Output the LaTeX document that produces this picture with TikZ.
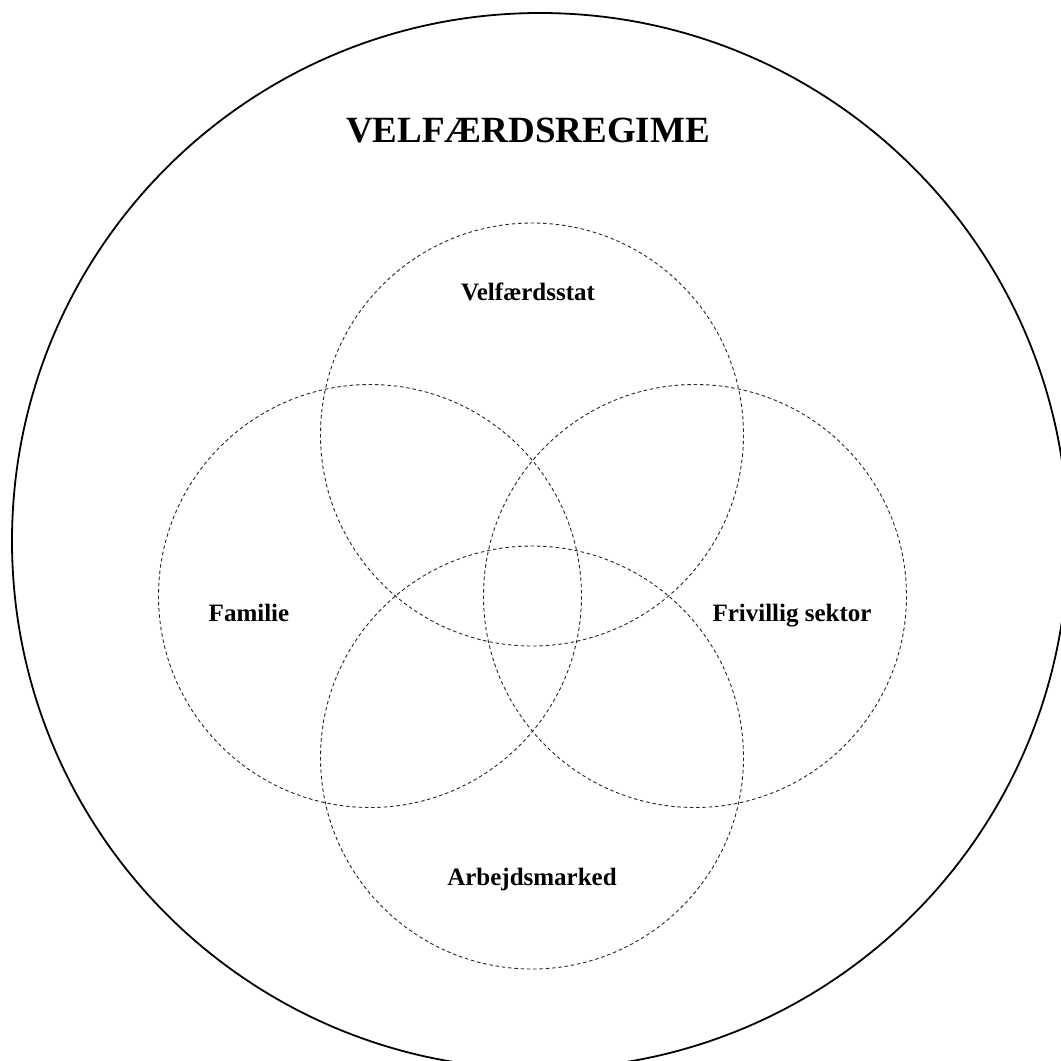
\documentclass[tikz,border=0pt]{standalone}
\usepackage{fontspec}
\setmainfont{Liberation Serif}
\begin{document}
\begin{tikzpicture}[x=1pt,y=-1pt,
  venn/.style={draw=black!85, line width=0.9pt, dash pattern=on 3.5pt off 2.8pt},
  outer/.style={draw=black, line width=1.8pt},
  lbl/.style={font=\bfseries\fontsize{25}{28}\selectfont, inner sep=0pt, anchor=base},
  ttl/.style={font=\bfseries\fontsize{37}{40}\selectfont, inner sep=0pt, anchor=base}]
\useasboundingbox[fill=white] (0,0) rectangle (1061,1061);
\clip (0,0) rectangle (1061,1061);
\coordinate (C) at (540,541);
\draw[outer] (C) circle[radius=528];
\coordinate (T) at (532,434.5);
\coordinate (L) at (370,596);
\coordinate (R) at (695,596);
\coordinate (B) at (532,757.5);
\draw[venn] (T) circle[radius=211.5];
\draw[venn] (L) circle[radius=211.5];
\draw[venn] (R) circle[radius=211.5];
\draw[venn] (B) circle[radius=211.5];
\node[ttl] (title) at (528,142) {VELFÆRDSREGIME};
\node[lbl] (stat) at (528,300) {Velfærdsstat};
\node[lbl] (fam) at (249,621) {Familie};
\node[lbl] (friv) at (792,621) {Frivillig sektor};
\node[lbl] (arb) at (532,885) {Arbejdsmarked};
\end{tikzpicture}
\end{document}
